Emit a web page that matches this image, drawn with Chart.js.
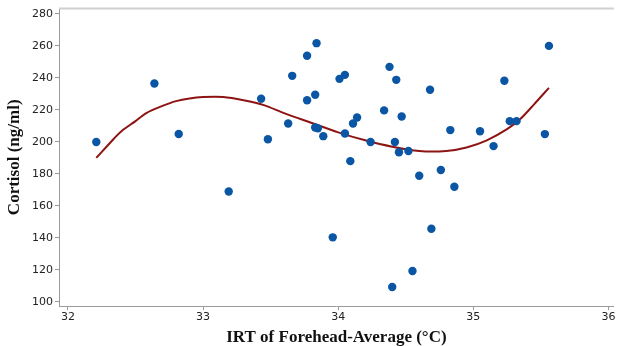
<!DOCTYPE html>
<html>
<head>
<meta charset="utf-8">
<script src="https://cdn.jsdelivr.net/npm/chart.js@4"></script>
<style>
    html, body { margin: 0; padding: 0; background: #fff; }
    #wrap { width: 618px; height: 346px; }
</style>
</head>
<body>
<div id="wrap"><canvas id="cortisolChart"></canvas></div>
<script>
// Forehead IRT (°C) and cortisol (ng/ml) per animal
const irt = [32.21, 32.64, 32.82, 33.19, 33.43, 33.48, 33.63, 33.66, 33.77, 33.77,
             33.84, 33.83, 33.83, 33.85, 33.89, 33.96, 34.01, 34.05, 34.05, 34.09,
             34.11, 34.14, 34.24, 34.34, 34.38, 34.40, 34.42, 34.43, 34.45, 34.47,
             34.52, 34.55, 34.60, 34.68, 34.69, 34.76, 34.83, 34.86, 35.05, 35.15,
             35.23, 35.27, 35.32, 35.53, 35.56];
const cortisol = [200, 236.5, 205, 169, 227, 201.7, 211.5, 241.3, 253.8, 226,
                  261.7, 229.5, 209, 208.5, 203.6, 140.4, 239.4, 241.9, 205.3, 188,
                  211.5, 215.3, 200, 219.7, 246.9, 109.4, 200, 238.8, 193.6, 215.9,
                  194.3, 119.4, 178.9, 232.6, 145.8, 182.5, 207.4, 172, 206.7, 197.4,
                  238.2, 213, 213, 204.9, 260];

// Fitted trend line
const fitIrt = [32.21, 32.34, 32.40, 32.50, 32.58, 32.70, 32.80, 32.90, 33.00, 33.15,
                33.30, 33.45, 33.60, 33.80, 34.00, 34.20, 34.40, 34.60, 34.80, 34.95,
                35.10, 35.25, 35.35, 35.45, 35.56];
const fitCortisol = [190, 202, 207, 213, 218, 222.5, 225.5, 227.2, 228, 228,
                     226, 223, 218, 212, 206, 201, 197, 194.3, 194.3, 196.5,
                     201, 208, 214.5, 223.5, 233.8];

const xTicks = [32, 33, 34, 35, 36];
const yTicks = [100, 120, 140, 160, 180, 200, 220, 240, 260, 280];

const tickFont = { family: 'DejaVu Sans', size: 11 };
const titleFont = { family: 'Liberation Serif', size: 17, weight: 'bold' };

// light frame line along the top of the plot
const topLine = {
    id: 'topLine',
    afterDraw(chart) {
        const { ctx, chartArea } = chart;
        ctx.save();
        ctx.strokeStyle = '#cfcfcf';
        ctx.lineWidth = 2;
        ctx.beginPath();
        ctx.moveTo(chartArea.left, chartArea.top);
        ctx.lineTo(chartArea.right, chartArea.top);
        ctx.stroke();
        ctx.restore();
    }
};

const ctx = document.getElementById('cortisolChart').getContext('2d');
new Chart(ctx, {
    type: 'scatter',
    data: {
        datasets: [
            {
                label: 'Cortisol',
                data: irt.map((x, i) => ({ x: x, y: cortisol[i] })),
                backgroundColor: '#0a56a5',
                borderWidth: 0,
                pointRadius: 4.2,
                pointHoverRadius: 4.2,
                order: 0
            },
            {
                label: 'Fit',
                type: 'line',
                data: fitIrt.map((x, i) => ({ x: x, y: fitCortisol[i] })),
                borderColor: '#8e1414',
                borderWidth: 2,
                pointRadius: 0,
                tension: 0.3,
                fill: false,
                order: 1
            }
        ]
    },
    options: {
        responsive: true,
        maintainAspectRatio: false,
        animation: false,
        layout: { padding: { top: 8, right: 1, left: 0, bottom: 0 } },
        plugins: {
            legend: { display: false },
            tooltip: { enabled: false }
        },
        scales: {
            x: {
                type: 'linear',
                min: 31.934,
                max: 36.04,
                afterBuildTicks: s => { s.ticks = xTicks.map(v => ({ value: v })); },
                afterFit: s => { s.height = 40; },
                grid: { drawOnChartArea: false, tickLength: 4, color: '#9a9a9a' },
                border: { color: '#9a9a9a', width: 1 },
                ticks: { font: tickFont, color: '#222', padding: 1, maxRotation: 0 },
                title: {
                    display: true,
                    text: 'IRT of Forehead-Average (°C)',
                    font: titleFont,
                    color: '#111',
                    padding: { top: 0, bottom: -2 }
                }
            },
            y: {
                min: 97.5,
                max: 283.3,
                afterBuildTicks: s => { s.ticks = yTicks.map(v => ({ value: v })); },
                afterFit: s => { s.width = 59; },
                grid: { drawOnChartArea: false, tickLength: 4, color: '#9a9a9a' },
                border: { color: '#9a9a9a', width: 1 },
                ticks: { font: tickFont, color: '#222', padding: 2 },
                title: {
                    display: true,
                    text: 'Cortisol (ng/ml)',
                    font: titleFont,
                    color: '#111',
                    padding: { top: 4, bottom: 0 }
                }
            }
        }
    },
    plugins: [topLine]
});
</script>
</body>
</html>
